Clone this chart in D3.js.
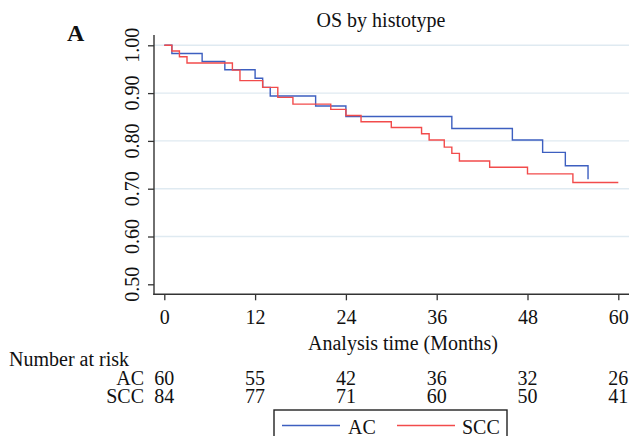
<!DOCTYPE html>
<html>
<head>
<meta charset="utf-8">
<script src="https://cdn.jsdelivr.net/npm/d3@7/dist/d3.min.js"></script>
<style>
  html, body { margin: 0; padding: 0; background: #fff; }
  svg { display: block; }
  text { font-family: "Liberation Serif", "Times New Roman", serif; fill: #111; }
</style>
</head>
<body>
<svg id="chart" width="629" height="436"></svg>
<script>
// ---- data ----
const panelLabel = "A";
const title = "OS by histotype";
const xTitle = "Analysis time (Months)";
const seriesNames = ["AC", "SCC"];
const xTicks = [0, 12, 24, 36, 48, 60];
const yTicks = [0.5, 0.6, 0.7, 0.8, 0.9, 1.0];
const gridTicks = [0.6, 0.7, 0.8, 0.9, 1.0];

const acTimes = [0, 1, 5, 8, 12, 13, 14, 20, 24, 38, 46, 50, 53, 56];
const acSurv  = [1, 0.983, 0.966, 0.949, 0.931, 0.912, 0.894, 0.873, 0.851, 0.826, 0.802, 0.776, 0.748, 0.720];
const acEnd = 56;

const sccTimes = [0, 1, 2, 3, 9, 10, 13, 15, 17, 22, 24, 26, 30, 34, 35, 37, 38, 39, 43, 48, 54];
const sccSurv  = [1, 0.988, 0.976, 0.963, 0.948, 0.926, 0.912, 0.891, 0.877, 0.866, 0.853, 0.840, 0.828, 0.815, 0.802, 0.787, 0.774, 0.758, 0.745, 0.731, 0.713];
const sccEnd = 60;

const riskTimes = [0, 12, 24, 36, 48, 60];
const acRisk  = [60, 55, 42, 36, 32, 26];
const sccRisk = [84, 77, 71, 60, 50, 41];

// ---- layout ----
const svg = d3.select("#chart");
const colors = { AC: "#3d5fc0", SCC: "#f24b4b" };
const x = d3.scaleLinear().domain([0, 60]).range([164.3, 618.3]);
const y = d3.scaleLinear().domain([0.5, 1.0]).range([284.3, 45.3]);
const axisLeftX = 154, axisBottomY = 294.3, plotRight = 629, plotTop = 35;

// gridlines
svg.append("g").selectAll("line").data(gridTicks).join("line")
  .attr("x1", axisLeftX).attr("x2", plotRight)
  .attr("y1", d => y(d)).attr("y2", d => y(d))
  .attr("stroke", "#dfeaf1").attr("stroke-width", 1.4);

// y axis
const yAxis = d3.axisLeft(y).tickValues(yTicks).tickSize(6).tickFormat(d3.format(".2f"));
const gy = svg.append("g").attr("transform", `translate(${axisLeftX},0)`).call(yAxis);
gy.select(".domain").remove();
gy.selectAll(".tick line").attr("stroke", "#333").attr("stroke-width", 1.3);
gy.selectAll(".tick text").remove();
svg.append("line").attr("x1", axisLeftX).attr("x2", axisLeftX)
  .attr("y1", plotTop).attr("y2", axisBottomY + 0.7)
  .attr("stroke", "#333").attr("stroke-width", 1.4);
svg.append("g").selectAll("text").data(yTicks).join("text")
  .attr("transform", d => `translate(138.5,${y(d)}) rotate(-90)`)
  .attr("text-anchor", "middle").attr("font-size", 20)
  .text(d3.format(".2f"));

// x axis
const xAxis = d3.axisBottom(x).tickValues(xTicks).tickSize(6).tickFormat(d3.format("d"));
const gx = svg.append("g").attr("transform", `translate(0,${axisBottomY})`).call(xAxis);
gx.select(".domain").remove();
gx.selectAll(".tick line").attr("stroke", "#333").attr("stroke-width", 1.3);
gx.selectAll(".tick text").attr("font-size", 20).attr("font-family", "Liberation Serif")
  .attr("fill", "#111").attr("y", 30).attr("dy", 0);
svg.append("line").attr("x1", axisLeftX - 0.7).attr("x2", plotRight)
  .attr("y1", axisBottomY).attr("y2", axisBottomY)
  .attr("stroke", "#333").attr("stroke-width", 1.4);

// survival curves
const line = d3.line().x(d => x(d[0])).y(d => y(d[1])).curve(d3.curveStepAfter);
const acPts = acTimes.map((t, i) => [t, acSurv[i]]);
const sccPts = sccTimes.map((t, i) => [t, sccSurv[i]]);
if (acEnd > acTimes[acTimes.length - 1]) acPts.push([acEnd, acSurv[acSurv.length - 1]]);
if (sccEnd > sccTimes[sccTimes.length - 1]) sccPts.push([sccEnd, sccSurv[sccSurv.length - 1]]);
svg.append("path").attr("d", line(acPts)).attr("fill", "none")
  .attr("stroke", colors.AC).attr("stroke-width", 1.4);
svg.append("path").attr("d", line(sccPts)).attr("fill", "none")
  .attr("stroke", colors.SCC).attr("stroke-width", 1.4);

// titles
svg.append("text").attr("x", 67).attr("y", 40.5).attr("font-size", 24)
  .attr("font-weight", "bold").text(panelLabel);
svg.append("text").attr("x", 381).attr("y", 27).attr("text-anchor", "middle")
  .attr("font-size", 20).text(title);
svg.append("text").attr("x", 403).attr("y", 350).attr("text-anchor", "middle")
  .attr("font-size", 20).text(xTitle);

// number at risk
svg.append("text").attr("x", 9).attr("y", 366).attr("font-size", 20).text("Number at risk");
const rows = [[seriesNames[0], acRisk, 385], [seriesNames[1], sccRisk, 403]];
rows.forEach(([name, vals, yy]) => {
  svg.append("text").attr("x", 144).attr("y", yy).attr("text-anchor", "end")
    .attr("font-size", 20).text(name);
  svg.append("g").selectAll("text").data(vals).join("text")
    .attr("x", (d, i) => x(riskTimes[i])).attr("y", yy)
    .attr("text-anchor", "middle").attr("font-size", 20).text(d => d);
});

// legend
svg.append("rect").attr("x", 274).attr("y", 410).attr("width", 233).attr("height", 40)
  .attr("fill", "#fff").attr("stroke", "#222").attr("stroke-width", 1.4);
const leg = [[seriesNames[0], 282, 348], [seriesNames[1], 397, 462]];
leg.forEach(([name, lx, tx]) => {
  svg.append("line").attr("x1", lx).attr("x2", lx + 58).attr("y1", 425.5).attr("y2", 425.5)
    .attr("stroke", colors[name]).attr("stroke-width", 1.4);
  svg.append("text").attr("x", tx).attr("y", 434).attr("font-size", 20).text(name);
});
</script>
</body>
</html>
